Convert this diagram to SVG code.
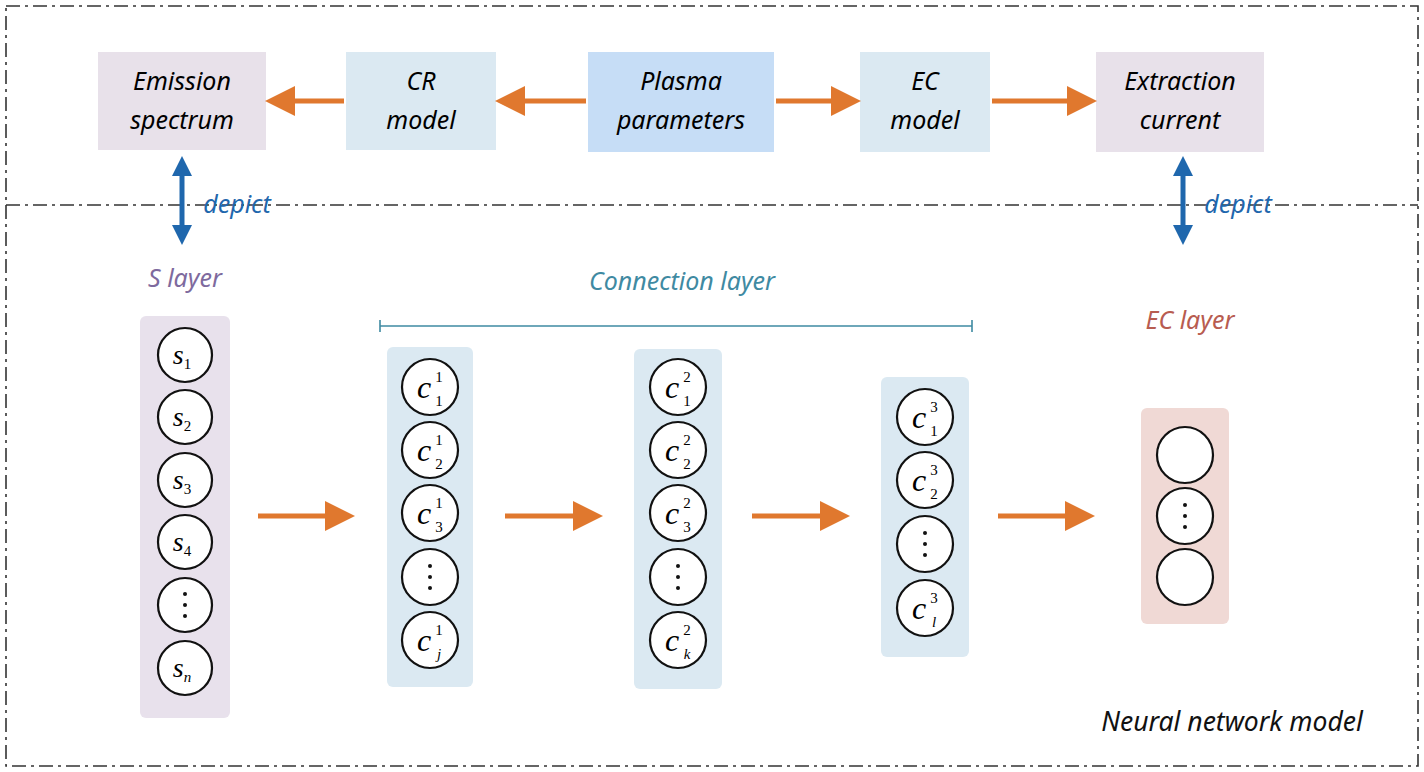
<svg xmlns="http://www.w3.org/2000/svg" width="1424" height="772" viewBox="0 0 1424 772">
<style>
.t{font-family:"Noto Sans","Liberation Sans",sans-serif;font-style:italic;font-size:25px;text-anchor:middle}
.m{font-family:"Liberation Serif",serif;font-style:italic;text-anchor:middle}
.n{font-style:normal}
.c{fill:#fff;stroke:#111;stroke-width:2.2}
.dd{fill:none;stroke:#333;stroke-width:1.6;stroke-dasharray:14 5 3 5}
.oa{stroke:#e0782e;stroke-width:5;marker-end:url(#oh)}
</style>
<defs>
<marker id="oh" markerWidth="6" markerHeight="6" refX="3" refY="3" orient="auto"><path d="M0,0L6,3L0,6z" fill="#e0782e"/></marker>
<marker id="bh" markerWidth="4" markerHeight="4" refX="2" refY="2" orient="auto-start-reverse"><path d="M0,0L4,2L0,4z" fill="#1f67ad"/></marker>
</defs>
<rect width="1424" height="772" fill="#fff"/>
<rect class="dd" x="6" y="6" width="1412" height="760"/>
<line class="dd" x1="6" y1="205" x2="1418" y2="205"/>
<g id="emission"><rect x="98" y="52" width="168" height="98" fill="#e8e1ea"/><text class="t" x="182" y="90">Emission</text><text class="t" x="182" y="129">spectrum</text></g>
<g id="cr"><rect x="346" y="52" width="150" height="98" fill="#dbe9f2"/><text class="t" x="421" y="90">CR</text><text class="t" x="421" y="129">model</text></g>
<g id="plasma"><rect x="588" y="52" width="186" height="100" fill="#c6ddf6"/><text class="t" x="681" y="90">Plasma</text><text class="t" x="681" y="129">parameters</text></g>
<g id="ec"><rect x="860" y="52" width="130" height="100" fill="#dbe9f2"/><text class="t" x="925" y="90">EC</text><text class="t" x="925" y="129">model</text></g>
<g id="extraction"><rect x="1096" y="52" width="168" height="100" fill="#e8e1ea"/><text class="t" x="1180" y="90">Extraction</text><text class="t" x="1180" y="129">current</text></g>
<g id="labels">
<text class="t" x="237" y="213" fill="#1f67ad">depict</text>
<text class="t" x="1238" y="213" fill="#1f67ad">depict</text>
<text class="t" x="185" y="287" fill="#7e6a9e">S layer</text>
<text class="t" x="682" y="290" fill="#3f8aa2">Connection layer</text>
<text class="t" x="1190" y="329" fill="#b85c50">EC layer</text>
<text class="t" x="1232" y="731" fill="#111" style="font-size:26.5px">Neural network model</text>
<path d="M380,320V332M380,326H972M972,320V332" stroke="#3f8aa2" stroke-width="1.6" fill="none"/>
</g>
<g id="slayer"><rect x="140" y="316" width="90" height="402" rx="6" fill="#e8e1ec"/>
<circle class="c" cx="185" cy="355" r="27"/><circle class="c" cx="185" cy="417" r="27"/><circle class="c" cx="185" cy="480" r="27"/><circle class="c" cx="185" cy="542" r="27"/><circle class="c" cx="185" cy="605" r="27"/><circle class="c" cx="185" cy="668" r="27"/>
<g class="m" font-size="28"><text x="182" y="364">s<tspan class="n" font-size="15" dy="5">1</tspan></text><text x="182" y="426">s<tspan class="n" font-size="15" dy="5">2</tspan></text><text x="182" y="489">s<tspan class="n" font-size="15" dy="5">3</tspan></text><text x="182" y="551">s<tspan class="n" font-size="15" dy="5">4</tspan></text><text x="182" y="677">s<tspan font-size="15" dy="5">n</tspan></text></g>
<g fill="#111"><circle cx="185" cy="594" r="2"/><circle cx="185" cy="605" r="2"/><circle cx="185" cy="616" r="2"/></g></g>
<g id="c1"><rect x="387" y="347" width="86" height="340" rx="6" fill="#dbe9f2"/>
<circle class="c" cx="430" cy="387" r="28"/><circle class="c" cx="430" cy="450" r="28"/><circle class="c" cx="430" cy="513" r="28"/><circle class="c" cx="430" cy="577" r="28"/><circle class="c" cx="430" cy="640" r="28"/>
<g class="m" font-size="32"><text x="424" y="398">c</text><text x="424" y="461">c</text><text x="424" y="524">c</text><text x="424" y="651">c</text></g>
<g class="m n" font-size="15"><text x="439" y="382">1</text><text x="439" y="406">1</text><text x="439" y="445">1</text><text x="439" y="469">2</text><text x="439" y="508">1</text><text x="439" y="532">3</text><text x="439" y="635">1</text><text x="439" y="659" style="font-style:italic">j</text></g>
<g fill="#111"><circle cx="430" cy="566" r="2"/><circle cx="430" cy="577" r="2"/><circle cx="430" cy="588" r="2"/></g></g>
<g id="c2"><rect x="634" y="349" width="88" height="340" rx="6" fill="#dbe9f2"/>
<circle class="c" cx="678" cy="387" r="28"/><circle class="c" cx="678" cy="450" r="28"/><circle class="c" cx="678" cy="513" r="28"/><circle class="c" cx="678" cy="577" r="28"/><circle class="c" cx="678" cy="640" r="28"/>
<g class="m" font-size="32"><text x="672" y="398">c</text><text x="672" y="461">c</text><text x="672" y="524">c</text><text x="672" y="651">c</text></g>
<g class="m n" font-size="15"><text x="687" y="382">2</text><text x="687" y="406">1</text><text x="687" y="445">2</text><text x="687" y="469">2</text><text x="687" y="508">2</text><text x="687" y="532">3</text><text x="687" y="635">2</text><text x="687" y="659" style="font-style:italic">k</text></g>
<g fill="#111"><circle cx="678" cy="566" r="2"/><circle cx="678" cy="577" r="2"/><circle cx="678" cy="588" r="2"/></g></g>
<g id="c3"><rect x="881" y="377" width="88" height="280" rx="6" fill="#dbe9f2"/>
<circle class="c" cx="925" cy="417" r="28"/><circle class="c" cx="925" cy="480" r="28"/><circle class="c" cx="925" cy="544" r="28"/><circle class="c" cx="925" cy="608" r="28"/>
<g class="m" font-size="32"><text x="919" y="428">c</text><text x="919" y="491">c</text><text x="919" y="619">c</text></g>
<g class="m n" font-size="15"><text x="934" y="412">3</text><text x="934" y="436">1</text><text x="934" y="475">3</text><text x="934" y="499">2</text><text x="934" y="603">3</text><text x="934" y="627" style="font-style:italic">l</text></g>
<g fill="#111"><circle cx="925" cy="533" r="2"/><circle cx="925" cy="544" r="2"/><circle cx="925" cy="555" r="2"/></g></g>
<g id="eclayer"><rect x="1141" y="408" width="88" height="216" rx="6" fill="#f0d9d5"/>
<circle class="c" cx="1185" cy="455" r="28"/><circle class="c" cx="1185" cy="516" r="28"/><circle class="c" cx="1185" cy="577" r="28"/>
<g fill="#111"><circle cx="1185" cy="505" r="2"/><circle cx="1185" cy="516" r="2"/><circle cx="1185" cy="527" r="2"/></g></g>
<g id="connectors">
<line class="oa" x1="344" y1="101" x2="280" y2="101"/>
<line class="oa" x1="586" y1="101" x2="510" y2="101"/>
<line class="oa" x1="776" y1="101" x2="846" y2="101"/>
<line class="oa" x1="992" y1="101" x2="1082" y2="101"/>
<line class="oa" x1="258" y1="516" x2="340" y2="516"/>
<line class="oa" x1="505" y1="516" x2="588" y2="516"/>
<line class="oa" x1="752" y1="516" x2="835" y2="516"/>
<line class="oa" x1="998" y1="516" x2="1080" y2="516"/>
<line x1="182" y1="166" x2="182" y2="235" stroke="#1f67ad" stroke-width="5" marker-start="url(#bh)" marker-end="url(#bh)"/>
<line x1="1183" y1="166" x2="1183" y2="235" stroke="#1f67ad" stroke-width="5" marker-start="url(#bh)" marker-end="url(#bh)"/>
</g>
</svg>
